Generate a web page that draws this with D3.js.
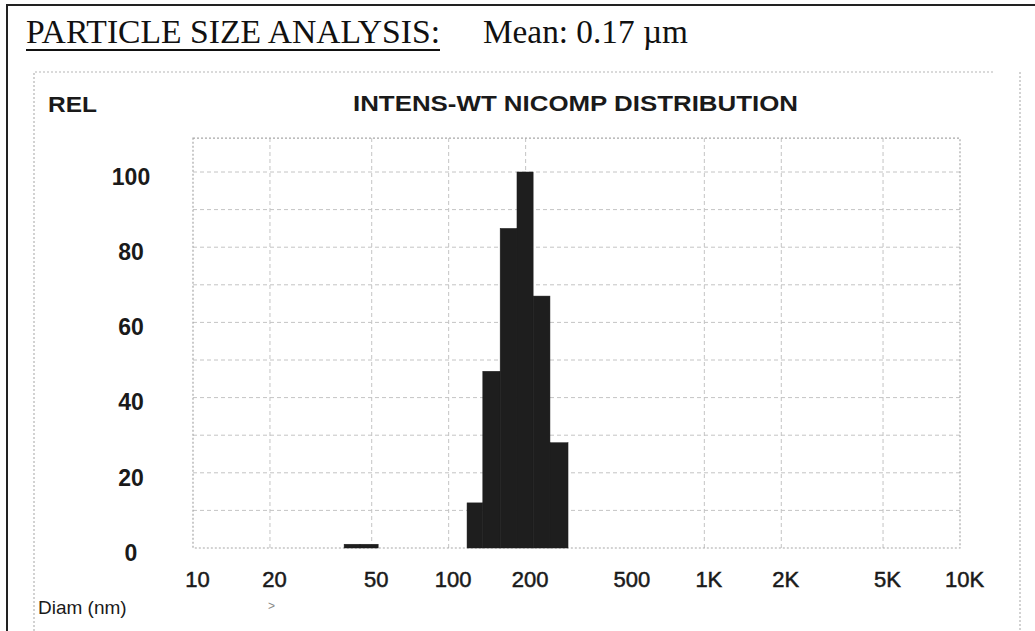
<!DOCTYPE html>
<html><head><meta charset="utf-8">
<script src="https://cdn.jsdelivr.net/npm/d3@7"></script>
<style>body{margin:0;background:#fff}</style></head>
<body><svg id="c" width="1035" height="631"></svg>
<script>
// ---- data ----
const binLow = [39, 45, 118, 136, 159, 185, 214, 249];   // nm
const binHigh = [45, 53, 136, 159, 185, 214, 249, 293];  // nm
const relIntensity = [1, 1, 12, 47, 85, 100, 67, 28];
const xTickValues = [10, 20, 50, 100, 200, 500, 1000, 2000, 5000, 10000];
const xTickLabels = ["10", "20", "50", "100", "200", "500", "1K", "2K", "5K", "10K"];
const xGridValues = [20, 50, 100, 200, 1000, 2000, 5000];
const yTickValues = [0, 20, 40, 60, 80, 100];
const yGridValues = [10, 20, 30, 40, 50, 60, 70, 80, 90, 100];
const yTop = 109;

const bins = binLow.map((lo, i) => ({lo, hi: binHigh[i], v: relIntensity[i]}));

const svg = d3.select("#c");
const W = 1035, H = 631;
const x = d3.scaleLog().domain([10, 10000]).range([193, 960]);
const y = d3.scaleLinear().domain([0, 100]).range([548, 172]);

// outer page border (left & top)
svg.append("path").attr("d", `M7,${H} L7,5 L${W},5`)
  .attr("fill", "none").attr("stroke", "#222").attr("stroke-width", 2);

// dotted printout frame
svg.append("path").attr("d", `M34,${H} L34,72 L995,72 M1020,72 L1020,${H}`)
  .attr("fill", "none").attr("stroke", "#b5b5b5").attr("stroke-width", 1.2)
  .attr("stroke-dasharray", "2,2");

// heading
const hd = svg.append("g").attr("font-family", "'Liberation Serif', 'Times New Roman', serif").attr("fill", "#111");
hd.append("text").attr("x", 26).attr("y", 43).attr("font-size", 33)
  .attr("textLength", 414).attr("lengthAdjust", "spacingAndGlyphs")
  .text("PARTICLE SIZE ANALYSIS:");
hd.append("line").attr("x1", 26).attr("x2", 440).attr("y1", 50).attr("y2", 50)
  .attr("stroke", "#111").attr("stroke-width", 2);
hd.append("text").attr("x", 483).attr("y", 43).attr("font-size", 33)
  .attr("textLength", 205).attr("lengthAdjust", "spacingAndGlyphs")
  .text("Mean: 0.17 µm");

// chart titles
const sans = "'Liberation Sans', Arial, Helvetica, sans-serif";
svg.append("text").attr("x", 48).attr("y", 112).attr("font-family", sans)
  .attr("font-size", 22).attr("font-weight", "bold").attr("fill", "#1a1a1a")
  .attr("textLength", 49).attr("lengthAdjust", "spacingAndGlyphs").text("REL");
svg.append("text").attr("x", 353).attr("y", 111).attr("font-family", sans)
  .attr("font-size", 22).attr("font-weight", "bold").attr("fill", "#1a1a1a")
  .attr("textLength", 445).attr("lengthAdjust", "spacingAndGlyphs").text("INTENS-WT NICOMP DISTRIBUTION");

// grid
const grid = svg.append("g").attr("stroke", "#c4c4c4").attr("stroke-width", 1).attr("stroke-dasharray", "4,3");
grid.selectAll(".hg").data(yGridValues).join("line")
  .attr("x1", x.range()[0]).attr("x2", x.range()[1])
  .attr("y1", d => y(d)).attr("y2", d => y(d));
grid.selectAll(".vg").data(xGridValues).join("line")
  .attr("x1", d => x(d)).attr("x2", d => x(d))
  .attr("y1", y(0)).attr("y2", y(yTop));

// plot frame
svg.append("rect")
  .attr("x", x.range()[0]).attr("y", y(yTop))
  .attr("width", x.range()[1] - x.range()[0]).attr("height", y(0) - y(yTop))
  .attr("fill", "none").attr("stroke", "#a8a8a8").attr("stroke-width", 1.2)
  .attr("stroke-dasharray", "2,2");

// bars
svg.append("g").selectAll("rect").data(bins).join("rect")
  .attr("x", d => x(d.lo)).attr("width", d => x(d.hi) - x(d.lo))
  .attr("y", d => y(d.v)).attr("height", d => y(0) - y(d.v))
  .attr("fill", "#1e1e1e").attr("stroke", "#1e1e1e").attr("stroke-width", 0.5);

// y axis labels
const yAxis = d3.axisLeft(y).tickValues(yTickValues).tickSize(0).tickPadding(0);
const gy = svg.append("g").attr("transform", "translate(131,5)").call(yAxis);
gy.select(".domain").remove();
gy.selectAll("text").attr("text-anchor", "middle").attr("font-family", sans)
  .attr("font-size", 23).attr("font-weight", "bold").attr("fill", "#1a1a1a");

// x axis labels
const xAxis = d3.axisBottom(x).tickValues(xTickValues)
  .tickFormat((d, i) => xTickLabels[i]).tickSize(0).tickPadding(0);
const gx = svg.append("g").attr("transform", "translate(4,571)").call(xAxis);
gx.select(".domain").remove();
gx.selectAll("text").attr("font-family", sans).attr("font-size", 22)
  .attr("fill", "#1a1a1a").attr("stroke", "#1a1a1a").attr("stroke-width", 0.5)
  .attr("dy", "0.71em");

// x axis name
svg.append("text").attr("x", 38).attr("y", 614).attr("font-family", sans)
  .attr("font-size", 19).attr("fill", "#1a1a1a").text("Diam (nm)");
svg.append("text").attr("x", 268).attr("y", 610).attr("font-family", sans)
  .attr("font-size", 12).attr("fill", "#888").text(">");
</script></body></html>
